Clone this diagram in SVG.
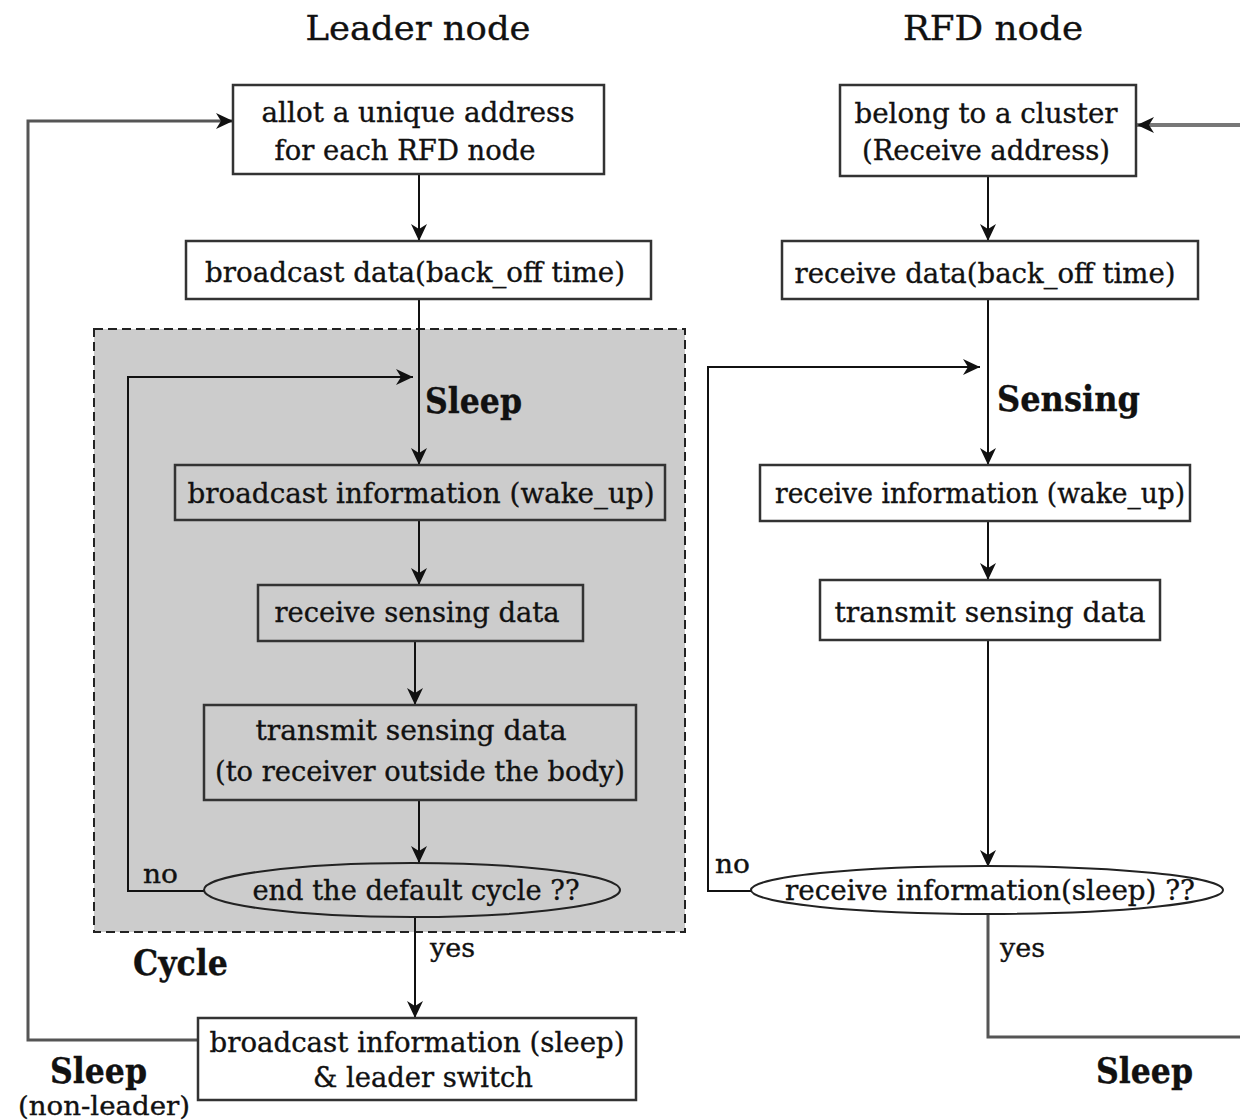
<svg xmlns="http://www.w3.org/2000/svg" width="1240" height="1120" viewBox="0 0 1240 1120">
<style>
text{font-family:"DejaVu Serif","Liberation Serif",serif;fill:#111;stroke:#111;stroke-width:0.35}
.t{font-size:27px;text-anchor:middle}
.h{font-size:34px;text-anchor:middle}
.b{font-size:36px;font-weight:bold}
.s{font-size:26px}
.box{fill:#fff;stroke:#333;stroke-width:2.5}
.gbox{fill:#ccc;stroke:#333;stroke-width:2.5}
.ln{fill:none;stroke:#111;stroke-width:2}
.gl{fill:none;stroke:#555;stroke-width:3}
</style>
<defs>
<marker id="ah" markerUnits="userSpaceOnUse" markerWidth="20" markerHeight="20" refX="17" refY="8" orient="auto">
<path d="M0,0 L17,8 L0,16 L5,8 Z" fill="#111"/>
</marker>
</defs>
<rect width="1240" height="1120" fill="#fff"/>
<text class="h" x="418" y="40" textLength="225" lengthAdjust="spacingAndGlyphs">Leader node</text>
<text class="h" x="993" y="40" textLength="180" lengthAdjust="spacingAndGlyphs">RFD node</text>
<rect id="cycle-area" x="94" y="329" width="591" height="603" fill="#ccc" stroke="#222" stroke-width="2" stroke-dasharray="9,5"/>
<g id="connectors">
<path class="ln" d="M419,174 V241" marker-end="url(#ah)"/>
<path class="ln" d="M419,299 V465" marker-end="url(#ah)"/>
<path class="ln" d="M419,520 V585" marker-end="url(#ah)"/>
<path class="ln" d="M415,641 V705" marker-end="url(#ah)"/>
<path class="ln" d="M419,800 V863" marker-end="url(#ah)"/>
<path class="ln" d="M415,917 V1018" marker-end="url(#ah)"/>
<path class="ln" d="M204,891 H128 V377 H413" stroke-width="2.5" marker-end="url(#ah)"/>
<path class="gl" d="M198,1040 H28 V121 H233" marker-end="url(#ah)"/>
<path class="ln" d="M988,176 V241" marker-end="url(#ah)"/>
<path class="ln" d="M988,299 V465" marker-end="url(#ah)"/>
<path class="ln" d="M988,521 V580" marker-end="url(#ah)"/>
<path class="ln" d="M988,640 V867" stroke-width="2.5" marker-end="url(#ah)"/>
<path class="ln" d="M752,891 H708 V367 H980" marker-end="url(#ah)"/>
<path class="gl" d="M988,914 V1037 H1240"/>
<path fill="none" stroke="#777" stroke-width="4" d="M1240,125 H1137" marker-end="url(#ah)"/>
</g>
<g id="allot">
<rect class="box" x="233" y="85" width="371" height="89"/>
<text class="t" x="418" y="122" textLength="313" lengthAdjust="spacingAndGlyphs">allot a unique address</text>
<text class="t" x="405" y="160" textLength="261" lengthAdjust="spacingAndGlyphs">for each RFD node</text>
</g>
<g id="bcast-data">
<rect class="box" x="186" y="241" width="465" height="58"/>
<text class="t" x="415" y="282" textLength="420" lengthAdjust="spacingAndGlyphs">broadcast data(back_off time)</text>
</g>
<text class="b" x="425" y="413" textLength="97" lengthAdjust="spacingAndGlyphs">Sleep</text>
<g id="bcast-wake">
<rect class="gbox" x="175" y="465" width="490" height="55"/>
<text class="t" x="421" y="503" textLength="467" lengthAdjust="spacingAndGlyphs">broadcast information (wake_up)</text>
</g>
<g id="recv-sense">
<rect class="gbox" x="258" y="585" width="325" height="56"/>
<text class="t" x="417" y="622" textLength="285" lengthAdjust="spacingAndGlyphs">receive sensing data</text>
</g>
<g id="tx-sense-l">
<rect class="gbox" x="204" y="705" width="432" height="95"/>
<text class="t" x="411" y="740" textLength="311" lengthAdjust="spacingAndGlyphs">transmit sensing data</text>
<text class="t" x="420" y="781" textLength="410" lengthAdjust="spacingAndGlyphs">(to receiver outside the body)</text>
</g>
<g id="end-cycle">
<ellipse cx="412" cy="890" rx="208" ry="27" fill="#ccc" stroke="#222" stroke-width="2"/>
<text class="t" x="416" y="900" textLength="327" lengthAdjust="spacingAndGlyphs">end the default cycle ??</text>
</g>
<text class="s" x="143" y="883" textLength="35" lengthAdjust="spacingAndGlyphs">no</text>
<text class="s" x="430" y="957" textLength="45" lengthAdjust="spacingAndGlyphs">yes</text>
<text class="b" x="133" y="975" textLength="95" lengthAdjust="spacingAndGlyphs">Cycle</text>
<g id="bcast-sleep">
<rect class="box" x="198" y="1018" width="438" height="82"/>
<text class="t" x="417" y="1052" textLength="415" lengthAdjust="spacingAndGlyphs">broadcast information (sleep)</text>
<text class="t" x="423" y="1087" textLength="220" lengthAdjust="spacingAndGlyphs">&amp; leader switch</text>
</g>
<text class="b" x="50" y="1083" textLength="97" lengthAdjust="spacingAndGlyphs">Sleep</text>
<text x="18" y="1115" font-size="26" textLength="172" lengthAdjust="spacingAndGlyphs">(non-leader)</text>
<g id="belong">
<rect class="box" x="840" y="85" width="296" height="91"/>
<text class="t" x="986" y="123" textLength="263" lengthAdjust="spacingAndGlyphs">belong to a cluster</text>
<text class="t" x="986" y="160" textLength="248" lengthAdjust="spacingAndGlyphs">(Receive address)</text>
</g>
<g id="recv-data">
<rect class="box" x="782" y="241" width="416" height="58"/>
<text class="t" x="985" y="283" textLength="381" lengthAdjust="spacingAndGlyphs">receive data(back_off time)</text>
</g>
<text class="b" x="997" y="411" textLength="143" lengthAdjust="spacingAndGlyphs">Sensing</text>
<g id="recv-wake">
<rect class="box" x="760" y="465" width="430" height="56"/>
<text class="t" x="980" y="503" textLength="410" lengthAdjust="spacingAndGlyphs">receive information (wake_up)</text>
</g>
<g id="tx-sense-r">
<rect class="box" x="820" y="580" width="340" height="60"/>
<text class="t" x="990" y="622" textLength="311" lengthAdjust="spacingAndGlyphs">transmit sensing data</text>
</g>
<g id="recv-sleep">
<ellipse cx="987" cy="890" rx="236" ry="24" fill="#fff" stroke="#222" stroke-width="2"/>
<text class="t" x="990" y="900" textLength="410" lengthAdjust="spacingAndGlyphs">receive information(sleep) ??</text>
</g>
<text class="s" x="715" y="873" textLength="35" lengthAdjust="spacingAndGlyphs">no</text>
<text class="s" x="1000" y="957" textLength="45" lengthAdjust="spacingAndGlyphs">yes</text>
<text class="b" x="1096" y="1083" textLength="97" lengthAdjust="spacingAndGlyphs">Sleep</text>
</svg>
